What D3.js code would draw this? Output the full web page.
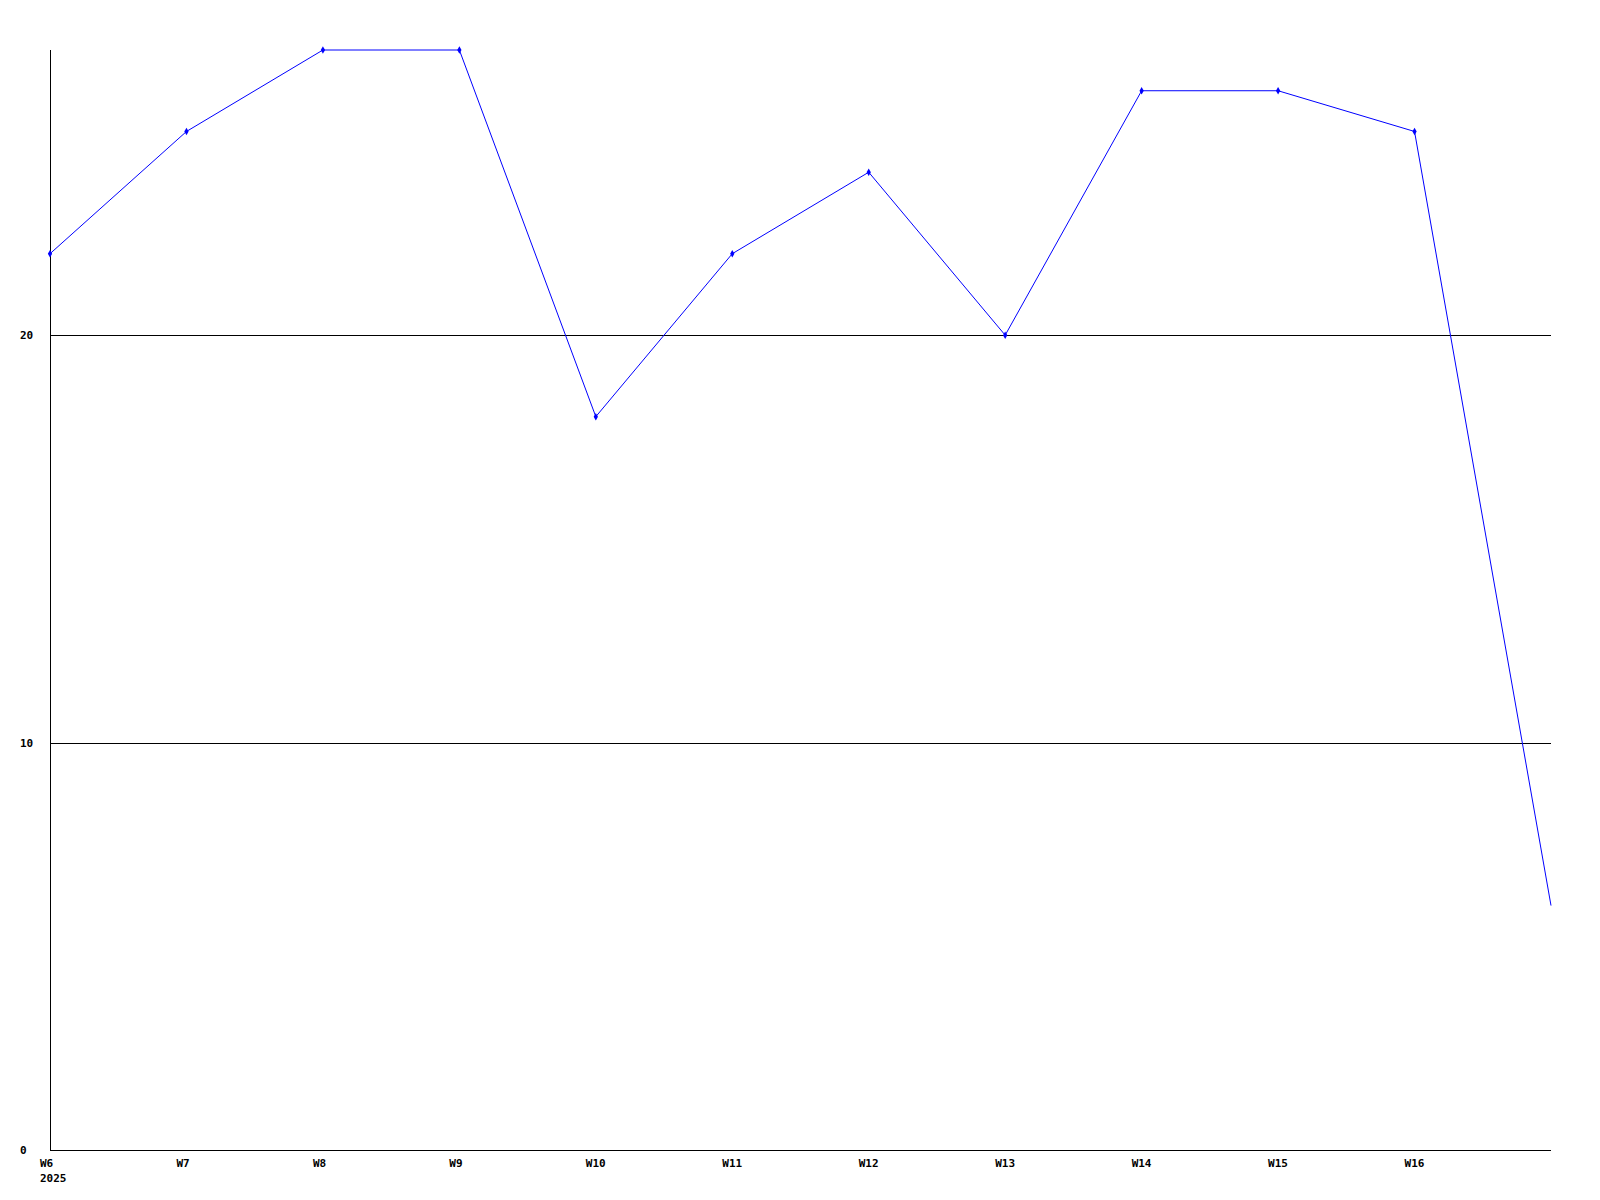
<!DOCTYPE html>
<html>
<head>
<meta charset="utf-8">
<script src="https://cdn.jsdelivr.net/npm/d3@7"></script>
<style>
  html, body { margin: 0; padding: 0; background: #fff; }
  svg { display: block; }
  text { font-family: "DejaVu Sans Mono", "Liberation Mono", monospace; font-weight: bold; font-size: 11px; fill: #000; }
</style>
</head>
<body>
<script>
// Data
const weeks = ["W6", "W7", "W8", "W9", "W10", "W11", "W12", "W13", "W14", "W15", "W16", "W17"];
const values = [22, 25, 27, 27, 18, 22, 24, 20, 26, 26, 25, 6];
const yTicks = [0, 10, 20];
const tickLabels = ["W6", "W7", "W8", "W9", "W10", "W11", "W12", "W13", "W14", "W15", "W16"];
const yearLabel = "2025";
const yMax = 27;

(function () {
const W = 1600, H = 1200;
const mLeft = 50, mRight = 1551, mTop = 50, mBottom = 1150;

const svg = d3.select("body").append("svg").attr("width", W).attr("height", H);

const x = d3.scaleLinear().domain([0, weeks.length - 1]).range([mLeft, mRight]);
const y = d3.scaleLinear().domain([0, yMax]).range([mBottom, mTop]);

// Gridlines (excluding 0)
svg.append("g").selectAll("line").data(yTicks.filter(d => d > 0)).join("line")
  .attr("x1", mLeft).attr("x2", mRight)
  .attr("y1", d => Math.round(y(d)) + 0.5).attr("y2", d => Math.round(y(d)) + 0.5)
  .attr("stroke", "#000").attr("stroke-width", 1);

// Axes lines
svg.append("line").attr("x1", mLeft + 0.5).attr("x2", mLeft + 0.5).attr("y1", mTop).attr("y2", mBottom + 1)
  .attr("stroke", "#000");
svg.append("line").attr("x1", mLeft).attr("x2", mRight).attr("y1", mBottom + 0.5).attr("y2", mBottom + 0.5)
  .attr("stroke", "#000");

// Y labels
svg.append("g").selectAll("text").data(yTicks).join("text")
  .attr("x", 20).attr("y", d => y(d) + 4)
  .text(d => d);

// X labels
svg.append("g").selectAll("text").data(tickLabels).join("text")
  .attr("x", (d, i) => x(i) - 10).attr("y", mBottom + 17)
  .text(d => d);
svg.append("text").attr("x", x(0) - 10).attr("y", mBottom + 32).text(yearLabel);

// Line
const line = d3.line().x((d, i) => x(i)).y(d => y(d));
svg.append("path").datum(values).attr("d", line)
  .attr("fill", "none").attr("stroke", "#0000ff").attr("stroke-width", 1);

// Markers
svg.append("g").selectAll("path").data(values.slice(0, values.length - 1)).join("path")
  .attr("transform", (d, i) => `translate(${x(i)},${y(d)})`)
  .attr("d", d3.symbol().type(d3.symbolDiamond).size(16))
  .attr("fill", "#0000ff");
})();
</script>
</body>
</html>
